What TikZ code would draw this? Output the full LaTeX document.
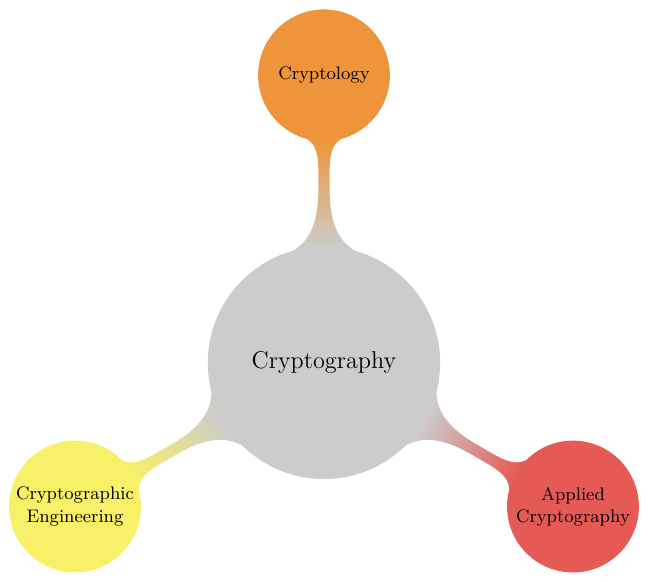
\documentclass[tikz,border=0pt]{standalone}
\usepackage{xcolor}
\usepackage{tikz}
\usetikzlibrary{mindmap, positioning}

\definecolor{grisraiz}{RGB}{204,204,204}
\definecolor{naranja}{RGB}{238,148,58}
\definecolor{amarillo}{RGB}{248,240,104}
\definecolor{rojo}{RGB}{230,90,85}

\begin{document}
\begin{tikzpicture}[mindmap,
    centro/.style={concept, minimum size=4cm, text width=3.5cm, inner sep=0pt, align=center, font=\large, text=black},
    rama/.style={concept, minimum size=2.25cm, text width=2.1cm, inner sep=0pt, align=center, font=\small, text=black}]
    \useasboundingbox (-5.635,-3.81) rectangle (5.67,6.31);
    % Nodo central
    \node[centro, concept color=grisraiz] (cripto) at (0,0) {Cryptography};
    % Ramas alrededor del nodo central
    \node[rama, concept color=naranja] (cryptology) at (90:5) {Cryptology};
    \node[rama, concept color=amarillo] (engineering) at (210:5) {Cryptographic\\Engineering};
    \node[rama, concept color=rojo] (applied) at (330:5) {Applied\\Cryptography};
    % Conexiones entre el centro y las ramas
    \foreach \rama/\col in {cryptology/naranja, engineering/amarillo, applied/rojo} {
        \path (cripto) to[circle connection bar switch color=from (grisraiz) to (\col)] (\rama);
    }
\end{tikzpicture}
\end{document}
